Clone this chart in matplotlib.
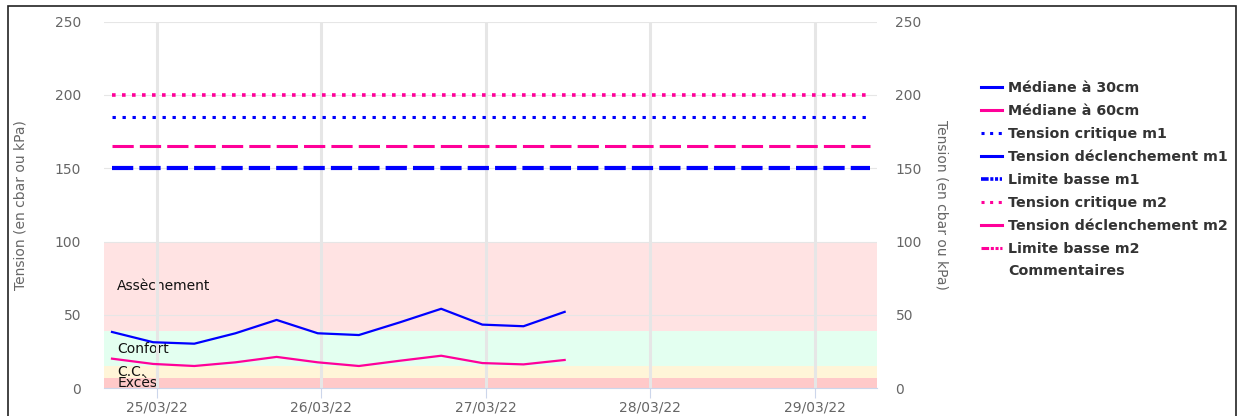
import matplotlib
matplotlib.use("Agg")
import matplotlib.pyplot as plt
import matplotlib.dates as mdates
from matplotlib.lines import Line2D
from matplotlib.patches import Rectangle
import pandas as pd

BLUE = "#0000ff"
PINK = "#ff0099"
GRID = "#e6e6e6"
AXIS = "#ccd6eb"
TXT = "#666666"

# mesures (toutes les 6 h)
times = pd.date_range("2022-03-24 17:30", periods=12, freq="6h")
mediane_30 = [38.4, 31.4, 30.4, 37.5, 46.6, 37.5, 36.3, 45.0, 54.2, 43.4, 42.3, 52.1]
mediane_60 = [20.2, 16.6, 15.2, 17.7, 21.4, 17.7, 15.2, 18.8, 22.2, 17.2, 16.3, 19.3]

# seuils
seuil_dates = [pd.Timestamp("2022-03-24 17:30"), pd.Timestamp("2022-03-29 08:00")]
tension_critique_m1 = 185
tension_declenchement_m1 = 150
tension_critique_m2 = 200
tension_declenchement_m2 = 165

# zones
bandes = ["Excès", "C.C.", "Confort", "Assèchement"]
bandes_bornes = [0, 7, 15, 39, 100]
bandes_couleurs = ["#ffc9c9", "#fff5d8", "#e3fff0", "#ffe3e3"]

y_ticks = [0, 50, 100, 150, 200, 250]
x_min = pd.Timestamp("2022-03-24 16:20")
x_max = pd.Timestamp("2022-03-29 09:00")

legende = ["Médiane à 30cm", "Médiane à 60cm", "Tension critique m1",
           "Tension déclenchement m1", "Limite basse m1", "Tension critique m2",
           "Tension déclenchement m2", "Limite basse m2", "Commentaires"]

plt.rcParams["lines.scale_dashes"] = False
plt.rcParams["font.family"] = "DejaVu Sans"

W, H = 1248, 416
fig = plt.figure(figsize=(W / 100, H / 100), dpi=100)
left, right, top, bottom = 104, 876.7, 21.5, 388.3
ax = fig.add_axes([left / W, 1 - bottom / H, (right - left) / W, (bottom - top) / H])
ax.set_axisbelow(True)

for i, nom in enumerate(bandes):
    lo, hi = bandes_bornes[i], bandes_bornes[i + 1]
    ax.axhspan(lo, hi, color=bandes_couleurs[i], lw=0, zorder=0.1)
    ax.text(0.017, (lo + hi) / 2, nom, transform=ax.get_yaxis_transform(),
            ha="left", va="center", fontsize=10, color="#111111", zorder=0.3)

# seuils
ax.plot(seuil_dates, [tension_critique_m2] * 2, color=PINK, lw=2.6, dashes=(2.6, 4.6))
ax.plot(seuil_dates, [tension_critique_m1] * 2, color=BLUE, lw=2.2, dashes=(2.4, 4.8))
ax.plot(seuil_dates, [tension_declenchement_m2] * 2, color=PINK, lw=2.2, dashes=(15.3, 4.4))
ax.plot(seuil_dates, [tension_declenchement_m1] * 2, color=BLUE, lw=3.0, dashes=(15.3, 4.4))

ax.plot(times, mediane_30, color=BLUE, lw=1.6, zorder=3)
ax.plot(times, mediane_60, color=PINK, lw=1.6, zorder=3)

ax.set_xlim(x_min, x_max)
ax.set_ylim(0, 250)
ax.set_yticks(y_ticks)
ax.xaxis.set_major_locator(mdates.DayLocator())
ax.xaxis.set_major_formatter(mdates.DateFormatter("%d/%m/%y"))

ax.grid(axis="y", color=GRID, lw=0.8)
ax.grid(axis="x", color=GRID, lw=2.2)
for s in ["top", "left", "right"]:
    ax.spines[s].set_visible(False)
ax.spines["bottom"].set_color(AXIS)
ax.spines["bottom"].set_linewidth(0.8)
ax.tick_params(axis="x", length=7, width=0.8, color=AXIS, labelsize=10,
               labelcolor=TXT, pad=2)
ax.tick_params(axis="y", length=0, labelsize=10, labelcolor=TXT, pad=16.5)

ax2 = ax.twinx()
ax2.set_ylim(0, 250)
ax2.set_yticks(y_ticks)
for s in ax2.spines.values():
    s.set_visible(False)
ax2.tick_params(axis="y", length=0, labelsize=10, labelcolor=TXT, pad=13.5)

ax.set_ylabel("Tension (en cbar ou kPa)", fontsize=10, color=TXT, ha="center", va="center")
ax.yaxis.set_label_coords((20.5 - left) / (right - left), 0.5)
ax2.set_ylabel("Tension (en cbar ou kPa)", fontsize=10, color=TXT, rotation=270,
               ha="center", va="center")
ax2.yaxis.set_label_coords((941 - left) / (right - left), 0.5)

handles = [
    Line2D([], [], color=BLUE, lw=2.2),
    Line2D([], [], color=PINK, lw=2.2),
    Line2D([], [], color=BLUE, lw=2.2, dashes=(2.2, 4.0)),
    Line2D([], [], color=BLUE, lw=2.2),
    Line2D([], [], color=BLUE, lw=2.6, dashes=(5.5, 1.2, 2.2, 1.2, 2.2, 1.2)),
    Line2D([], [], color=PINK, lw=2.2, dashes=(2.2, 4.0)),
    Line2D([], [], color=PINK, lw=2.2),
    Line2D([], [], color=PINK, lw=2.2, dashes=(5.5, 1.2, 2.2, 1.2, 2.2, 1.2)),
    Line2D([], [], lw=0),
]
fig.legend(handles, legende, loc="upper left", bbox_to_anchor=(981 / W, 1 - 81.5 / H),
           frameon=False, borderpad=0, borderaxespad=0, handlelength=1.45,
           handletextpad=0.42, labelspacing=0.62,
           prop={"size": 10.3, "weight": "bold"}, labelcolor="#333333")

fig.add_artist(Rectangle((8 / W, -0.1), (1236 - 8) / W, 1.1 - 6 / H, transform=fig.transFigure,
                         fill=False, lw=1.2, edgecolor="#222222", clip_on=False))

fig.savefig("out.png", dpi=100)
